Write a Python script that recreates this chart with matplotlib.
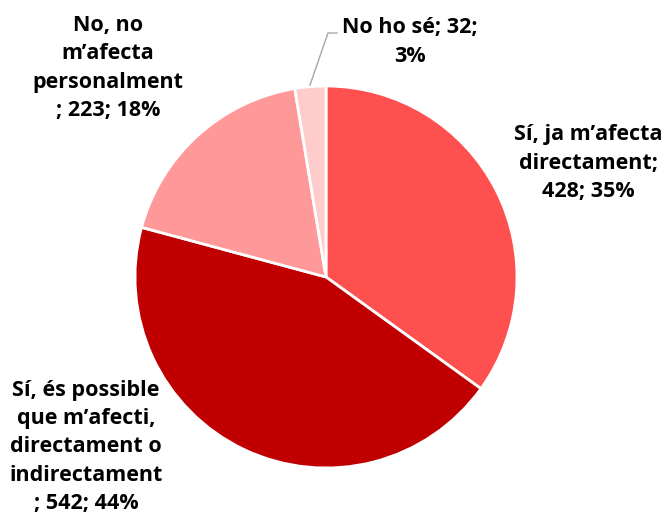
import matplotlib
matplotlib.use("Agg")
import matplotlib.pyplot as plt

labels = [
    "Sí, ja m’afecta\ndirectament;\n428; 35%",
    "Sí, és possible\nque m’afecti,\ndirectament o\nindirectament\n; 542; 44%",
    "No, no\nm’afecta\npersonalment\n; 223; 18%",
    "No ho sé; 32;\n3%",
]
values = [428, 542, 223, 32]
colors = ["#FF5050", "#C00000", "#FF9999", "#FFCCCC"]

W, H = 664, 521
fig = plt.figure(figsize=(W / 100, H / 100), dpi=100)
ax = fig.add_axes([0, 0, 1, 1])

cx, cy, r = 326, H - 277, 191
ax.pie(values, colors=colors, startangle=90, counterclock=False,
       center=(cx, cy), radius=r, frame=True,
       wedgeprops=dict(edgecolor="white", linewidth=2))
ax.set_xlim(0, W)
ax.set_ylim(0, H)
ax.set_aspect("equal")
ax.axis("off")

# label positions in pixel coords (x center, y center from top)
pos = [(588, 163), (86, 447), (108, 68), (410, 42)]
for text, (x, y) in zip(labels, pos):
    ax.text(x, H - y, text, ha="center", va="center", fontsize=15.5,
            fontweight="bold", family="Open Sans", linespacing=1.45)

# leader line for the small slice
ax.plot([310, 328, 337], [H - 85, H - 33, H - 33], color="#A6A6A6", lw=1)

fig.savefig("out.png", dpi=100)
